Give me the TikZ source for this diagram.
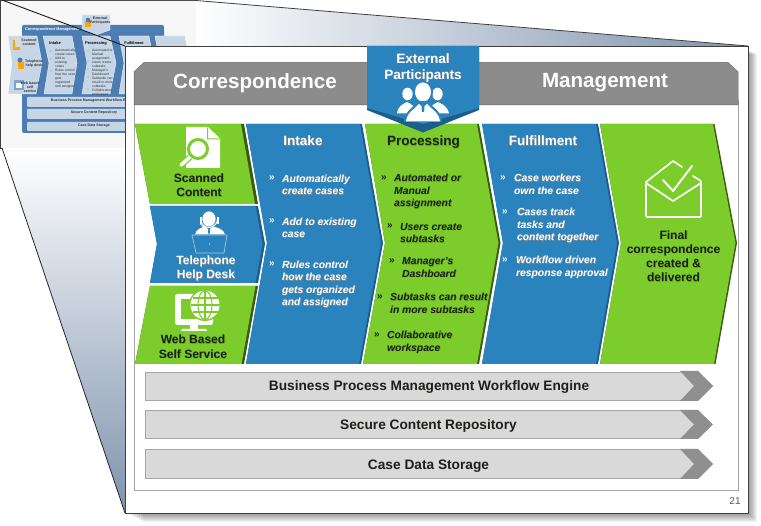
\documentclass[tikz,border=0pt]{standalone}
\usepackage{fontspec}
\setmainfont{Liberation Sans}
\usetikzlibrary{shapes.geometric,calc}
\definecolor{cgreen}{HTML}{7CCD2B}
\definecolor{cgreend}{HTML}{3C5A10}
\definecolor{cblue}{HTML}{2A83BD}
\definecolor{cblued}{HTML}{1B5E8E}
\definecolor{chead}{HTML}{8C8C8C}
\definecolor{cbar}{HTML}{D9D9D9}
\definecolor{cbard}{HTML}{8F8F8F}
\definecolor{ctext}{HTML}{1C1F1A}
\definecolor{tblue}{HTML}{4C7DB2}
\definecolor{tlight}{HTML}{C6D6E7}
\definecolor{wedge}{HTML}{7F93AD}
\newcommand\shw[1]{\leavevmode\rlap{\kern0.6pt\raisebox{-0.6pt}{\textcolor{black!45}{#1}}}\textcolor{white}{#1}}
\newcommand\shd[1]{\leavevmode\rlap{\kern0.6pt\raisebox{-0.6pt}{\textcolor{cgreend!35!cgreen}{#1}}}\textcolor{ctext}{#1}}
\newcommand\fsz[2]{\fontsize{#1}{#2}\selectfont}
\newcommand\lnw[1]{\shw{\rule{0pt}{8pt}#1}}
\newcommand\lnd[1]{\shd{\rule{0pt}{8pt}#1}}
\tikzset{
  bigtitle/.style={font=\bfseries\fsz{20.6}{22},inner sep=0pt},
  colhead/.style={font=\bfseries\fsz{13.5}{15},inner sep=0pt,text height=9.7pt,text depth=0pt},
  lbl/.style={font=\bfseries\fsz{12}{14.3},inner sep=0pt,align=center,text=ctext},
  bul/.style={font=\bfseries\itshape\fsz{10.3}{12.5},inner sep=0pt,anchor=north west,align=left},
  bulmark/.style={font=\bfseries\fsz{10}{10},inner sep=0pt},
  bartext/.style={font=\bfseries\fsz{13.7}{15},inner sep=0pt,text=ctext,text height=9.9pt,text depth=0pt},
  barbox/.style={fill=cbar},
  barline/.style={draw=black!35,line width=0.8pt},
  barcap/.style={fill=cbard},
  thumbtxt/.style={font=\fsz{3.4}{4},inner sep=0pt,align=left,text=black!80},
  thumbbold/.style={font=\bfseries\fsz{3.6}{4},inner sep=0pt,align=center,text=black!80},
}
\begin{document}
\begin{tikzpicture}[x=1pt,y=-1pt]
\useasboundingbox (0,0) rectangle (761,526);
\fill[white] (0,0) rectangle (761,526);
% ---------- thumbnail
\fill[black!3] (0,0) rectangle (196,148);
\fill[tblue,rounded corners=2pt] (22,25) rectangle (164,133);
\node[font=\bfseries\fsz{3.8}{4},text=white,inner sep=0pt,anchor=west] (ttitle) at (25,30) {Correspondence Management};
\fill[tlight,draw=white,line width=.3pt] (8,36) -- (37,36) -- (42,63) -- (36,94) -- (8,94) -- (12,63) -- cycle;
\fill[tlight,draw=white,line width=.3pt] (43,36) -- (72,36) -- (77,63) -- (72,94) -- (44,94) -- (49,63) -- cycle;
\fill[tlight,draw=white,line width=.3pt] (82,36) -- (110,36) -- (116,63) -- (110,94) -- (82,94) -- (87,63) -- cycle;
\fill[tlight,draw=white,line width=.3pt] (119,36) -- (149,36) -- (154,63) -- (149,94) -- (119,94) -- (124,63) -- cycle;
\fill[tlight,draw=white,line width=.3pt] (155,36) -- (185,36) -- (190,63) -- (185,94) -- (155,94) -- (160,63) -- cycle;
\fill[tlight,draw=white,line width=.3pt] (82,15) -- (110,15) -- (110,30) -- (96,35) -- (82,30) -- cycle;
\fill[tlight,rounded corners=1pt] (27,97) rectangle (160,107);
\fill[tlight,rounded corners=1pt] (27,109) rectangle (160,119);
\fill[tlight,rounded corners=1pt] (27,122) rectangle (160,131);
\fill[orange!70!yellow] (13,40) rectangle (20,50);
\fill[black!15] (15,38) rectangle (21,47);
\fill[orange!70!yellow] (18,62) rectangle (24,69);
\fill[tblue] (20,60) circle (2.5);
\fill[tblue!70] (14,80) rectangle (24,90);
\fill[white] (16,83) rectangle (22,88);
\fill[orange!70!yellow] (85,21) rectangle (91,27);
\fill[tblue] (88,20) circle (2.3);
\node[thumbbold] (tep) at (100,21) {External\\Participants};
\node[thumbbold] (tsc) at (29,42) {Scanned\\content};
\node[thumbbold] (ttl) at (34,64) {Telephone\\help desk};
\node[thumbbold] (twb) at (30,87) {Web based\\self\\service};
\node[font=\bfseries\fsz{4}{4.5},inner sep=0pt] (tin) at (55,43) {Intake};
\node[font=\bfseries\fsz{4}{4.5},inner sep=0pt] (tpr) at (96,43) {Processing};
\node[font=\bfseries\fsz{3.8}{4.5},inner sep=0pt] (tfu) at (134,43) {Fulfillment};
\node[thumbtxt,anchor=north west] (tib) at (55,49) {Automatically\\create cases\\Add to\\existing\\cases\\Rules control\\how the case\\gets\\organized\\and assigned};
\node[thumbtxt,anchor=north west] (tpb) at (92,49) {Automated or\\Manual\\assignment\\Users create\\subtasks\\Manager's\\Dashboard\\Subtasks can\\result in more\\subtasks\\Collaborative\\workspace};
\foreach \yy in {51,59,71} {\fill[black!80] (51,\yy) circle (.4);}
\foreach \yy in {51,61,69,77,89} {\fill[black!80] (88,\yy) circle (.4);}
\node[thumbbold] (tb1) at (93,101) {Business Process Management Workflow Engine};
\node[thumbbold] (tb2) at (94,113) {Secure Content Repository};
\node[thumbbold] (tb3) at (94,126) {Case Data Storage};
\draw[black!80,line width=.8pt] (196,0) -- (196,148) -- (0,148);
\draw[black!70,line width=.8pt] (0,0.4) -- (196,0.4);
\draw[black!75,line width=.8pt] (0,0.4) -- (0,148);
% ---------- wedges
\shade[left color=white,middle color=wedge!35!white,right color=wedge] (196,0.5) -- (748,46) -- (196,46) -- cycle;
\shade[top color=white,bottom color=wedge] (2,148) -- (125,513) -- (125,148) -- cycle;
\draw[black!75,line width=.8pt] (196,0.5) -- (748,46);
\draw[black!85,line width=.8pt] (2,148) -- (125,513);
\draw[black!90,line width=.9pt] (2,0) -- (125,46);
% ---------- page shadow
\foreach \d in {1,...,9} {
  \fill[black,opacity=0.05] ({125+2*\d},{50+0.5*\d}) rectangle ({748+\d},{513+\d});
}
% ---------- page
\fill[white,draw=black!75,line width=.8pt] (125,46) rectangle (748,513);
\draw[black!35,line width=.8pt] (134,100) -- (134,490) -- (738,490) -- (738,100);
\fill[chead,draw=black!60,line width=.5pt] (134,105) -- (134,72) -- (144,62.5) -- (728,62.5) -- (738,72) -- (738,105) -- cycle;
% left column
\fill[cgreend] (135,124) -- (244,124) -- (258,204) -- (150,204) -- cycle;
\fill[cgreen] (135,124) -- (241,124) -- (255,204) -- (150,204) -- cycle;
\fill[cblued] (150,206) -- (258,206) -- (265,244) -- (258,283) -- (150,283) -- (157,244) -- cycle;
\fill[cblue] (150,206) -- (255.5,206) -- (262.5,244) -- (255.5,283) -- (150,283) -- (157,244) -- cycle;
\fill[cgreend] (150,286) -- (258,286) -- (244,364) -- (135,364) -- cycle;
\fill[cgreen] (150,286) -- (255.5,286) -- (241.5,364) -- (135,364) -- cycle;
% columns
\fill[cblued] (246,124) -- (362,124) -- (383,243) -- (361,364) -- (246,364) -- (267,243) -- cycle;
\fill[cblue] (246,124) -- (360,124) -- (381,243) -- (359,364) -- (246,364) -- (267,243) -- cycle;
\fill[cgreend] (365,124) -- (479,124) -- (500.5,243) -- (479,364) -- (363,364) -- (385,243) -- cycle;
\fill[cgreen] (365,124) -- (477,124) -- (498.5,243) -- (477,364) -- (363,364) -- (385,243) -- cycle;
\fill[cblued] (482,124) -- (598,124) -- (619,243) -- (598,364) -- (482,364) -- (503,243) -- cycle;
\fill[cblue] (482,124) -- (596,124) -- (617,243) -- (596,364) -- (482,364) -- (503,243) -- cycle;
\fill[cgreend] (600,124) -- (714.5,124) -- (737,243) -- (715.5,364) -- (600,364) -- (621,243) -- cycle;
\fill[cgreen] (600,124) -- (713,124) -- (735.5,243) -- (714,364) -- (600,364) -- (621,243) -- cycle;
% external participants
\fill[cblued] (367,46) -- (479,46) -- (479,110) -- (423,132.5) -- (367,110) -- cycle;
\fill[cblue] (367,46) -- (479,46) -- (479,108) -- (423,124) -- (367,108) -- cycle;
% bars
\fill[barbox] (145.5,372.5) -- (681,372.5) -- (695,386) -- (681,400.5) -- (145.5,400.5) -- cycle;
\fill[barbox] (145.5,410.5) -- (681,410.5) -- (695,424.5) -- (681,438.5) -- (145.5,438.5) -- cycle;
\fill[barbox] (145.5,449.5) -- (681,449.5) -- (695,464) -- (681,478) -- (145.5,478) -- cycle;
\draw[barline] (681,372.5) -- (145.5,372.5) -- (145.5,400.5) -- (681,400.5);
\draw[barline] (681,410.5) -- (145.5,410.5) -- (145.5,438.5) -- (681,438.5);
\draw[barline] (681,449.5) -- (145.5,449.5) -- (145.5,478) -- (681,478);
\fill[barcap] (680,371) -- (698,371) -- (713,386) -- (698,401) -- (680,401) -- (694,386) -- cycle;
\fill[barcap] (680,410) -- (698,410) -- (713,424.5) -- (698,439) -- (680,439) -- (694,424.5) -- cycle;
\fill[barcap] (680,449) -- (698,449) -- (713,464) -- (698,479) -- (680,479) -- (694,464) -- cycle;
% ---------- icons
% document + magnifier
\fill[white] (186,127) -- (208,127) -- (220,138.5) -- (220,168) -- (186,168) -- cycle;
\fill[cgreen] (208,127) -- (208,138.5) -- (220,138.5) -- (219,139.5) -- (207,139.5) -- (207,128) -- cycle;
\draw[cgreen,line width=6pt,line cap=round] (190,157) -- (181,165);
\draw[white,line width=3.6pt,line cap=round] (190,157) -- (181,165);
\fill[white] (198,149) circle (11.5);
\draw[cgreen,line width=3pt] (198,149) circle (9.5);
% headset agent
\draw[white,line width=1pt] (200.5,219) arc[start angle=180,end angle=0,radius=8.5];
\fill[white] (209,219) ellipse (6.6 and 7.6);
\fill[white] (199.5,217) rectangle (201.5,224);
\fill[white] (216.5,217) rectangle (218.5,224);
\draw[white,line width=.7pt] (200.5,224) .. controls (201,227) and (204,227) .. (206,226.5);
\fill[white] (195,234.5) .. controls (196,229) and (202,227.5) .. (205,226.5) -- (209,230) -- (213,226.5) .. controls (217,227.5) and (224,229) .. (225,234.5) -- cycle;
\fill[cblue] (208,229.5) -- (210,229.5) -- (209.6,234.5) -- (208.4,234.5) -- cycle;
\draw[white!60!cblue,line width=.6pt,line join=round] (192,235) -- (227,235) -- (224,253) -- (196,253) -- cycle;
\fill[white] (209.5,244) circle (.6);
% monitor + globe
\fill[white,rounded corners=2.5pt] (175,294) rectangle (213,325);
\fill[cgreen] (180.5,299.5) rectangle (213.5,319.5);
\fill[white] (190,325) rectangle (198,329);
\fill[white] (182,329) -- (206,329) -- (207,331) -- (181,331) -- cycle;
\fill[cgreen] (205,305) circle (16);
\fill[white] (205,305) circle (14.5);
\draw[cgreen,line width=1.1pt] (205,290.5) -- (205,319.5);
\draw[cgreen,line width=1.1pt] (190.5,305) -- (219.5,305);
\draw[cgreen,line width=1.1pt] (205,305) ellipse (7 and 14.5);
\draw[cgreen,line width=1.1pt] (192.5,298) -- (217.5,298);
\draw[cgreen,line width=1.1pt] (192.5,312) -- (217.5,312);
% participants
\fill[white] (407.5,94) ellipse (5.2 and 6.3);
\fill[white] (437.5,94) ellipse (5.2 and 6.3);
\fill[white] (397,113.5) .. controls (398,105) and (404,104) .. (407,102) .. controls (411,104) and (414,105) .. (417,113.5) -- cycle;
\fill[white] (428,113.5) .. controls (431,105) and (434,104) .. (438,102) .. controls (441,104) and (447,105) .. (449,113.5) -- cycle;
\fill[cblue] (423,92) ellipse (10 and 12);
\fill[white] (423,92) ellipse (8 and 9.6);
\fill[cblue] (404,122) .. controls (405,110) and (414,107) .. (419,101) -- (427,101) .. controls (432,107) and (441,110) .. (442,122) -- cycle;
\fill[white] (406,121.5) .. controls (407,112) and (415,109) .. (419,104) -- (423,108) -- (427,104) .. controls (431,109) and (439,112) .. (440,121.5) -- cycle;
\fill[cblue] (421.5,107) -- (424.5,107) -- (424,112) -- (422,112) -- cycle;
% envelope
\draw[white,line width=1.7pt,line join=round,line cap=round,rounded corners=1pt] (646,183) -- (646,217) -- (701,217) -- (701,181) -- (693,176);
\draw[white,line width=1.7pt,line join=round,line cap=round] (646,182) -- (673,161) -- (682,167);
\draw[white,line width=1.7pt,line join=round,line cap=round] (646,183) -- (673,201) -- (701,183);
\draw[white,line width=1.9pt,line join=miter,line cap=round] (663,180) -- (673,191) -- (692,166);
% ---------- text
\node[bigtitle] (tcorr) at (255,83) {\shw{Correspondence}};
\node[bigtitle] (tmgmt) at (605,83) {\shw{Management}};
\node[font=\bfseries\fsz{13.5}{16},inner sep=0pt,align=center] (ext) at (423,68) {\shw{External}\\\shw{Participants}};
\node[colhead] (hin) at (303,141) {\shw{Intake}};
\node[colhead] (hpr) at (423.5,141) {\shd{Processing}};
\node[colhead] (hfu) at (543,141) {\shw{Fulfillment}};
\node[lbl] (lsc) at (199,185.5) {\shd{Scanned}\\\shd{Content}};
\node[lbl] (ltl) at (206,269) {\shw{Telephone}\\\shw{Help Desk}};
\node[lbl] (lwb) at (193,347) {\shd{Web Based}\\\shd{Self Service}};
\node[lbl] (lfi) at (673.5,256.5) {\shd{Final}\\\shd{correspondence}\\\shd{created \&}\\\shd{delivered}};
% intake
\node[bulmark,text=white] (m1) at (272,178) {»};
\node[bul] (b1) at (282,174) {\lnw{Automatically}\\\lnw{create cases}};
\node[bulmark,text=white] (m2) at (272,221) {»};
\node[bul] (b2) at (282,217) {\lnw{Add to existing}\\\lnw{case}};
\node[bulmark,text=white] (m3) at (272,264) {»};
\node[bul] (b3) at (282,260) {\lnw{Rules control}\\\lnw{how the case}\\\lnw{gets organized}\\\lnw{and assigned}};
% processing
\node[bulmark,text=ctext] (m4) at (384,178) {»};
\node[bul] (b4) at (394,173.5) {\lnd{Automated or}\\\lnd{Manual}\\\lnd{assignment}};
\node[bulmark,text=ctext] (m5) at (390,226) {»};
\node[bul] (b5) at (400,222) {\lnd{Users create}\\\lnd{subtasks}};
\node[bulmark,text=ctext] (m6) at (392,261) {»};
\node[bul] (b6) at (402,256.5) {\lnd{Manager's}\\\lnd{Dashboard}};
\node[bulmark,text=ctext] (m7) at (380,297) {»};
\node[bul] (b7) at (390,292.5) {\lnd{Subtasks can result}\\\lnd{in more subtasks}};
\node[bulmark,text=ctext] (m8) at (377,335) {»};
\node[bul] (b8) at (387,330.5) {\lnd{Collaborative}\\\lnd{workspace}};
% fulfillment
\node[bulmark,text=white] (m9) at (503,178) {»};
\node[bul] (b9) at (514,173.5) {\lnw{Case workers}\\\lnw{own the case}};
\node[bulmark,text=white] (m10) at (505,212) {»};
\node[bul] (b10) at (517,207.5) {\lnw{Cases track}\\\lnw{tasks and}\\\lnw{content together}};
\node[bulmark,text=white] (m11) at (505,260) {»};
\node[bul] (b11) at (516,255.5) {\lnw{Workflow driven}\\\lnw{response approval}};
% bars text
\node[bartext] (bt1) at (429,386) {Business Process Management Workflow Engine};
\node[bartext] (bt2) at (428.5,425) {Secure Content Repository};
\node[bartext] (bt3) at (428.5,465) {Case Data Storage};
\node[font=\fsz{10}{12},inner sep=0pt,text=black!65] (pg) at (735,501) {21};
\end{tikzpicture}
\end{document}
